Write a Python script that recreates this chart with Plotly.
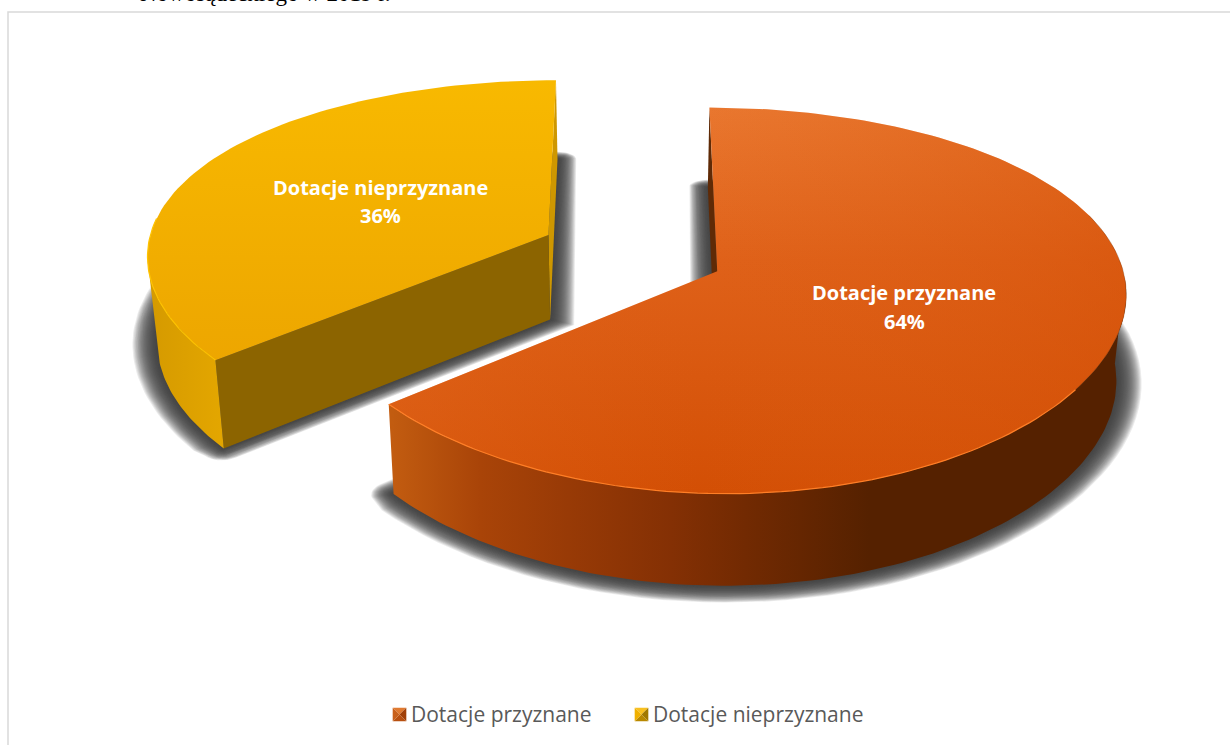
import numpy as np
import plotly.graph_objects as go

labels = ["Dotacje przyznane", "Dotacje nieprzyznane"]
shares = [64, 36]
heading = "Nowosądeckiego w 2019 r."

# perspective of the pie plane, fitted to the picture
X0, Y0 = 632, 252.9
A, B, P, PX = 402, 183, 0.15, 0.10
PULL = 0.232
DROP_X, DROP_Y, DROP_P = 0.02, 85, 0.07


def top(X, Y):
    X, Y = np.asarray(X, float), np.asarray(Y, float)
    return X0 + A * X / (1 + PX * Y), Y0 - B * Y / (1 + P * Y)


def base(X, Y):
    # bottom face of the pie, same world point lower down
    X, Y = np.asarray(X, float), np.asarray(Y, float)
    sx, sy = top(X, Y)
    return sx + (X0 - sx) * DROP_X, sy + DROP_Y / (1 + DROP_P * Y)


def wedge(center, t1, t2, r=1.0, n=90):
    t = np.radians(np.linspace(t1, t2, n))
    return center[0] + r * np.sin(t), center[1] + r * np.cos(t)


def outline(center, t1, t2, e):
    # slice outline grown by e, with rounded corners
    m = np.radians((t1 + t2) / 2)
    s = abs(np.sin(np.radians((t2 - t1) / 2)))
    ax = center[0] - np.sin(m) * e / s
    ay = center[1] - np.cos(m) * e / s
    arc_x, arc_y = wedge(center, t1 + 2, t2 - 2, r=1 + e)
    p1x, p1y = wedge(center, t1, t1, n=1)
    p2x, p2y = wedge(center, t2, t2, n=1)
    c2x, c2y = wedge((p2x[0], p2y[0]), t2, t2 + 90, r=e * 0.85, n=12)
    c1x, c1y = wedge((p1x[0], p1y[0]), t1 - 90, t1, r=e * 0.85, n=12)
    return np.r_[arc_x, c2x, ax, c1x], np.r_[arc_y, c2y, ay, c1y]


fig = go.Figure()


def poly(sx, sy, color=None, grad=None):
    kw = dict(fillcolor=color) if grad is None else dict(fillgradient=grad)
    fig.add_trace(go.Scatter(x=list(sx), y=list(sy), mode="lines", fill="toself",
                             line=dict(width=0, color="rgba(0,0,0,0)"),
                             hoverinfo="skip", showlegend=False, **kw))


def edge(sx, sy, color, width=1.2):
    fig.add_trace(go.Scatter(x=list(sx), y=list(sy), mode="lines",
                             line=dict(width=width, color=color),
                             hoverinfo="skip", showlegend=False))


# slice angles come from the shares, clockwise from the top
total = sum(shares)
spans = []
start = 0.0
for v in shares:
    end = start + 360.0 * v / total
    spans.append((start, end))
    start = end

centers = []
for t1, t2 in spans:
    m = np.radians((t1 + t2) / 2)
    centers.append((PULL * np.sin(m), PULL * np.cos(m)))

# soft shadows, stacked translucent copies of the bottom face
for (t1, t2), c in zip(spans[::-1], centers[::-1]):
    for e in np.linspace(0.062, 0.002, 24):
        wx, wy = outline(c, t1, t2, e)
        sx, sy = base(wx, wy)
        poly(sx, sy, "rgba(60,60,60,0.10)")

# yellow slice: walls, rim, top
(t1, t2), c = spans[1], centers[1]
ends = wedge(c, t1, t2, n=2)
for i, col in ((1, "#CE9700"), (0, "#8C6400")):
    wx = np.r_[c[0], ends[0][i]]
    wy = np.r_[c[1], ends[1][i]]
    tx, ty = top(wx, wy)
    bx, by = base(wx, wy)
    poly(np.r_[tx, bx[::-1]], np.r_[ty, by[::-1]], col)
wx, wy = wedge(c, t1, t1 + 32, n=40)
tx, ty = top(wx, wy)
bx, by = base(wx, wy)
poly(np.r_[tx, bx[::-1]], np.r_[ty, by[::-1]],
     grad=dict(type="horizontal", start=150, stop=220,
               colorscale=[[0, "#D59A00"], [1, "#E3A600"]]))
wx, wy = wedge(c, t1, t2)
tx, ty = top(np.r_[c[0], wx], np.r_[c[1], wy])
poly(tx, ty, grad=dict(type="vertical", start=79, stop=362,
                       colorscale=[[0, "#F8B900"], [1, "#EDA600"]]))
wx, wy = wedge(c, t1, t1 + 45, n=40)
edge(*top(wx, wy), "#FFC400")

# orange slice: wall, rim, top
(t1, t2), c = spans[0], centers[0]
ends = wedge(c, t1, t2, n=2)
wx = np.r_[c[0], ends[0][0]]
wy = np.r_[c[1], ends[1][0]]
tx, ty = top(wx, wy)
bx, by = base(wx, wy)
poly(np.r_[tx, bx[::-1]], np.r_[ty, by[::-1]], "#5F2A06")
wx, wy = wedge(c, 92, t2, n=120)
tx, ty = top(wx, wy)
bx, by = base(wx, wy)
poly(np.r_[tx, bx[::-1]], np.r_[ty, by[::-1]],
     grad=dict(type="horizontal", start=392, stop=1127,
               colorscale=[[0, "#C25C10"], [0.12, "#A94408"], [0.24, "#983A06"],
                           [0.38, "#843004"], [0.48, "#722A02"], [0.65, "#552100"],
                           [1, "#552100"]]))
wx, wy = wedge(c, t1, t2, n=180)
tx, ty = top(np.r_[c[0], wx], np.r_[c[1], wy])
poly(tx, ty, grad=dict(type="vertical", start=107, stop=492,
                       colorscale=[[0, "#E9772F"], [0.4, "#DF6119"], [1, "#D34F05"]]))
# second pass tilts the top gradient towards the lower right
poly(tx, ty, grad=dict(type="horizontal", start=392, stop=1127,
                       colorscale=[[0, "rgba(227,106,31,0.4)"], [0.42, "rgba(220,95,20,0)"],
                                   [1, "rgba(211,79,5,0.45)"]]))
wx, wy = wedge(c, 125, t2, n=80)
edge(*top(wx, wy), "#FF7E26")
wx, wy = wedge(c, 72, 125, n=60)
edge(*top(wx, wy), "rgba(95,42,6,0.35)", width=0.8)

# legend: bevelled swatch plus text, top / right / bottom / left facets
legend_x = [399.5, 641.5]
legend_y = 714.5
SW = 6.8
bevels = [["#E07A30", "#A04008", "#B85010", "#C8601A"],
          ["#F8C020", "#A07800", "#B88800", "#F0B000"]]
for name, lx, cols in zip(labels, legend_x, bevels):
    corners = [(-SW, -SW), (SW, -SW), (SW, SW), (-SW, SW)]
    for i, col in enumerate(cols):
        a, b = corners[i], corners[(i + 1) % 4]
        poly([lx + a[0], lx + b[0], lx], [legend_y + a[1], legend_y + b[1], legend_y], col)
    fig.add_annotation(x=lx + SW + 2.5, y=legend_y - 0.5, xref="x", yref="y", xanchor="left",
                       showarrow=False, text=name,
                       font=dict(family="Open Sans", size=21, color="#595959"))

# data labels
name_y = [292, 187]
pct_y = [321, 215]
label_x = [904, 380]
for name, v, lx, ny, py in zip(labels, shares, label_x, name_y, pct_y):
    fig.add_annotation(x=lx, y=ny, xref="x", yref="y", showarrow=False, text=f"<b>{name}</b>",
                       font=dict(family="Open Sans", size=20, color="white"))
    fig.add_annotation(x=lx, y=py, xref="x", yref="y", showarrow=False, text=f"<b>{v}%</b>",
                       font=dict(family="Open Sans", size=20, color="white"))

# the caption line cut off by the top of the page
fig.add_annotation(x=138, y=8.5, xref="x", yref="y", xanchor="left", yanchor="bottom",
                   showarrow=False, text=heading,
                   font=dict(family="Liberation Serif", size=23, color="black"))

fig.add_shape(type="rect", x0=8, y0=12, x1=1260, y1=780, xref="x", yref="y",
              line=dict(color="#D9D9D9", width=1.5), layer="below")

fig.update_layout(
    width=1230, height=745,
    margin=dict(l=0, r=0, t=0, b=0),
    paper_bgcolor="white", plot_bgcolor="white",
    xaxis=dict(visible=False, range=[0, 1230], fixedrange=True),
    yaxis=dict(visible=False, range=[745, 0], fixedrange=True),
    showlegend=False,
)

fig.write_html("out.html", config={"displayModeBar": False},
               post_script="document.body.style.margin='0';document.body.style.overflow='hidden';")
